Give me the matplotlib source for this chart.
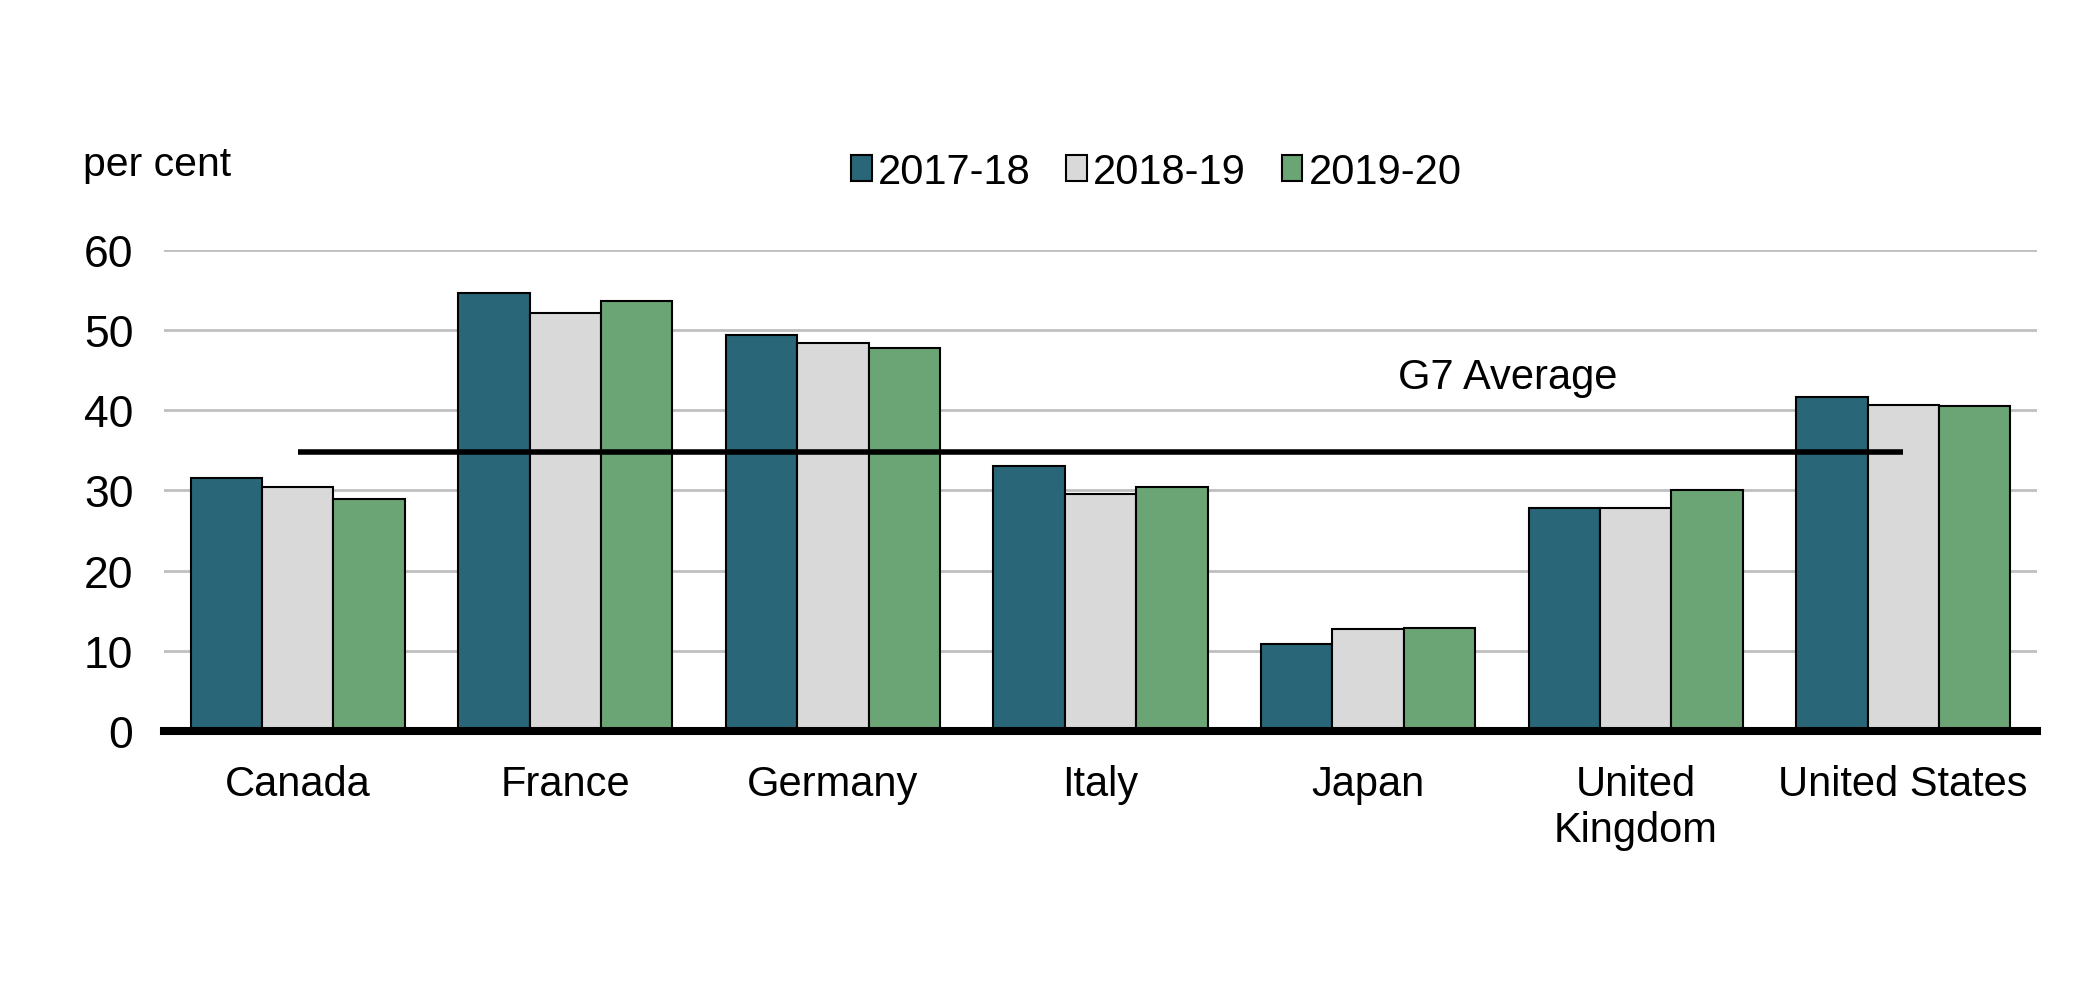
import matplotlib.pyplot as plt
import numpy as np

countries = ['Canada', 'France', 'Germany', 'Italy', 'Japan', 'United\nKingdom', 'United States']
years = ['2017-18', '2018-19', '2019-20']
vals_1718 = [31.6, 54.6, 49.4, 33.1, 10.9, 27.8, 41.6]
vals_1819 = [30.4, 52.1, 48.4, 29.5, 12.7, 27.8, 40.6]
vals_1920 = [28.9, 53.6, 47.8, 30.4, 12.8, 30.0, 40.5]
g7_avg = 34.8

colors = ['#296678', '#d9d9d9', '#6ba575']

plt.rcParams['font.family'] = ['Liberation Sans', 'DejaVu Sans']

fig = plt.figure(figsize=(20.92, 10.04), dpi=100)
ax = fig.add_axes([0.0784, 0.271, 0.8953, 0.479])

x = np.arange(len(countries))
w = 0.8 / 3
for i, (vals, lab) in enumerate(zip([vals_1718, vals_1819, vals_1920], years)):
    ax.bar(x + (i - 1) * w, vals, w, color=colors[i], edgecolor='black',
           linewidth=1.5, label=lab, zorder=3)

# G7 average line from first to last country
ax.hlines(g7_avg, x[0], x[-1], color='black', linewidth=4, zorder=4)
ax.text(4.52, 44.2, 'G7 Average', fontsize=30, ha='center', va='center')

ax.set_xlim(-0.5, 6.5)
ax.set_ylim(0, 60)
ax.set_yticks(range(0, 61, 10))
ax.set_xticks(x)
ax.set_xticklabels(countries, fontsize=30)
ax.tick_params(axis='y', labelsize=32, length=0, pad=22)
ax.tick_params(axis='x', length=0, pad=24)
ax.grid(axis='y', color='#bfbfbf', linewidth=2, zorder=0)

for s in ['top', 'left', 'right']:
    ax.spines[s].set_visible(False)
ax.spines['bottom'].set_linewidth(5.8)
ax.spines['bottom'].set_zorder(5)

fig.text(0.0397, 0.836, 'per cent', fontsize=29.5, ha='left', va='center')
fig.legend(loc='center', bbox_to_anchor=(0.5527, 0.828), ncol=3, frameon=False,
           fontsize=30, handlelength=0.5, handleheight=0.6, handletextpad=0.15,
           columnspacing=0.85)

plt.savefig('out.png')
